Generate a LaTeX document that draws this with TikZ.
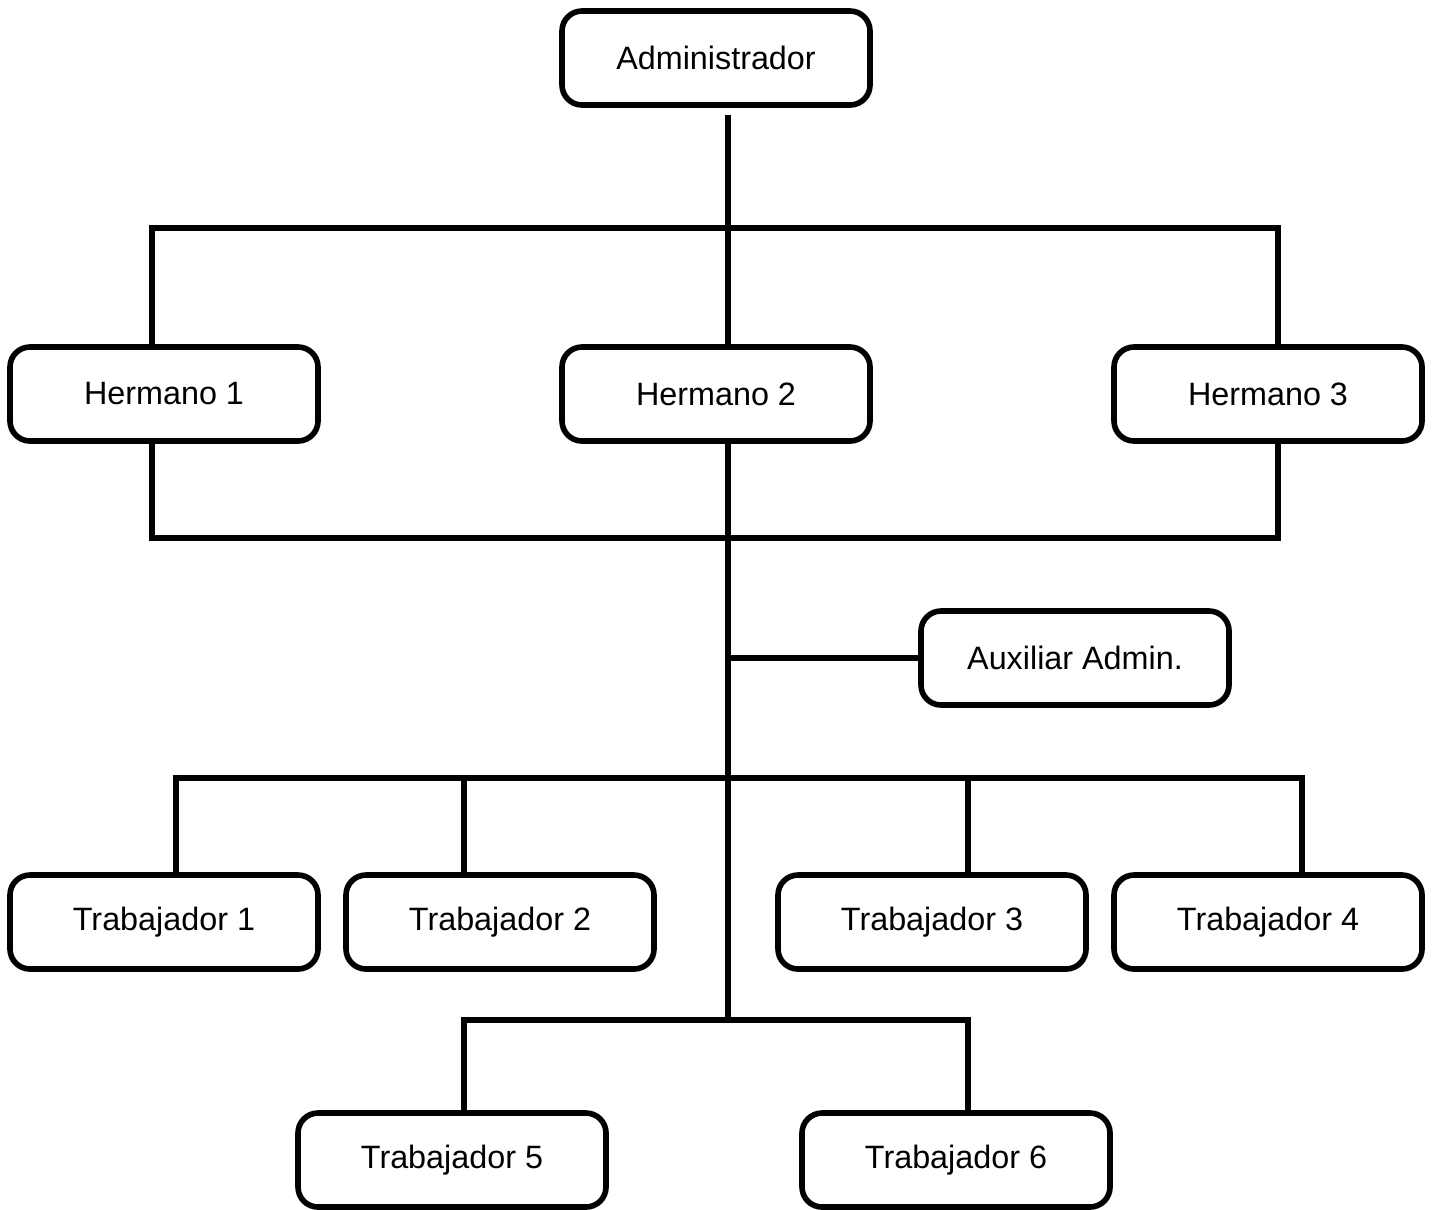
\documentclass[tikz,border=0pt]{standalone}
\usepackage{fontspec}
\setmainfont{Liberation Sans}
\usetikzlibrary{positioning}
\tikzset{
  cargo/.style={draw, rounded corners=0.2cm, line width=1.6pt, fill=white,
    minimum width=3.08cm, minimum height=0.94cm,
    font=\fontsize{9.2}{11}\selectfont},
  enlace/.style={line width=1.7pt}
}
\begin{document}
\begin{tikzpicture}
    \useasboundingbox (0,0) rectangle (14.33,-12.09);

    \node[cargo] (admin) at (7.16,-0.58) {Administrador};
    \node[cargo] (h1) at (1.64,-3.94) {Hermano 1};
    \node[cargo] (h2) at (7.16,-3.94) {Hermano 2};
    \node[cargo] (h3) at (12.68,-3.94) {Hermano 3};
    \node[cargo] (aux) at (10.75,-6.58) {Auxiliar Admin.};
    \node[cargo] (t1) at (1.64,-9.22) {Trabajador 1};
    \node[cargo] (t2) at (5.00,-9.22) {Trabajador 2};
    \node[cargo] (t3) at (9.32,-9.22) {Trabajador 3};
    \node[cargo] (t4) at (12.68,-9.22) {Trabajador 4};
    \node[cargo] (t5) at (4.52,-11.60) {Trabajador 5};
    \node[cargo] (t6) at (9.56,-11.60) {Trabajador 6};

    % junctions on the trunk
    \coordinate (jh) at (7.28,-2.28);
    \coordinate (jb) at (7.28,-5.38);
    \coordinate (ja) at (7.28,-6.58);
    \coordinate (jt) at (7.28,-7.78);
    \coordinate (jr) at (7.28,-10.20);

    \draw[enlace] ([yshift=-0.7mm]admin.south -| jh) -- (h2.north -| jh);
    \draw[enlace] ([xshift=-1.2mm]h1.north) |- (jh) -| ([xshift=1mm]h3.north);
    \draw[enlace] ([xshift=-1.2mm]h1.south) |- (jb) -| ([xshift=1mm]h3.south);
    \draw[enlace] (h2.south -| jb) -- (jr);
    \draw[enlace] (ja) -- (aux.west);

    \draw[enlace] ([xshift=1.2mm]t1.north) |- (jt) -| ([xshift=3.4mm]t4.north);
    \draw[enlace] ([xshift=-3.6mm]t2.north) -- ([xshift=-3.6mm]t2.north |- jt);
    \draw[enlace] ([xshift=3.6mm]t3.north) -- ([xshift=3.6mm]t3.north |- jt);
    \draw[enlace] ([xshift=1.2mm]t5.north) |- (jr) -| ([xshift=1.2mm]t6.north);
\end{tikzpicture}
\end{document}
